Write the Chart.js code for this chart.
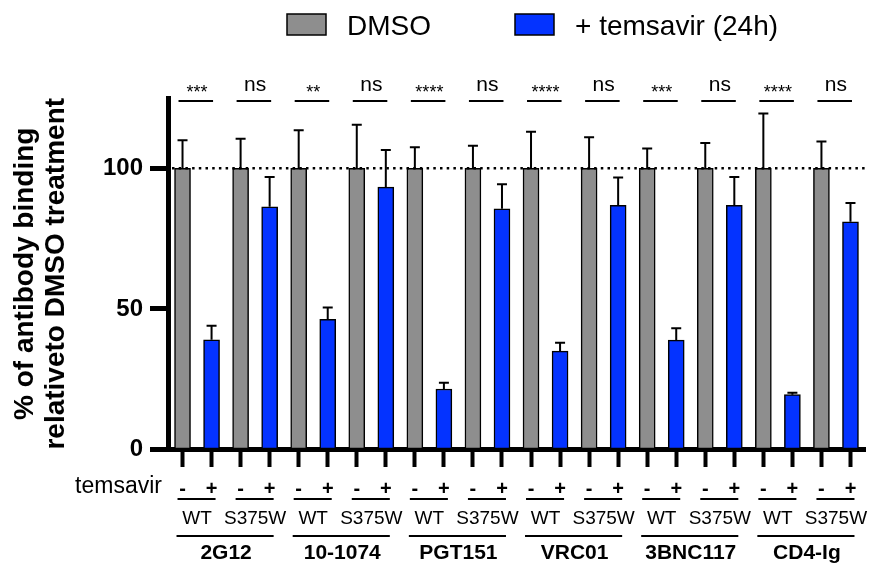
<!DOCTYPE html>
<html>
<head>
<meta charset="utf-8">
<script src="https://cdn.jsdelivr.net/npm/chart.js@4"></script>
<style>
  html, body { margin: 0; padding: 0; background: #fff; }
  canvas { display: block; }
</style>
</head>
<body>
<canvas id="bindingChart" width="869" height="564"></canvas>
<script>
// Data (% binding relative to DMSO, mean and upper SD)
const antibodies = ['2G12', '10-1074', 'PGT151', 'VRC01', '3BNC117', 'CD4-Ig'];
const variants = ['WT', 'S375W'];
const dmsoMean = [100, 100, 100, 100, 100, 100, 100, 100, 100, 100, 100, 100];
const dmsoSD = [10, 10.5, 13.5, 15.5, 7.5, 8, 13, 11, 7, 9, 19.5, 9.5];
const temsMean = [39, 86.3, 46.3, 93.3, 21.5, 85.6, 35, 86.8, 38.9, 86.8, 19.5, 81];
const temsSD = [5, 10.6, 4.2, 13.2, 2.2, 8.7, 3, 9.9, 4.2, 10.1, 0.7, 6.7];
const significance = ['***', 'ns', '**', 'ns', '****', 'ns', '****', 'ns', '***', 'ns', '****', 'ns'];
const yTicks = [0, 50, 100];
const refLine = 100;

const GRAY = '#8e8e8e';
const BLUE = '#0433ff';
const FONT = "'Liberation Sans', Arial, Helvetica, sans-serif";

// one category per bar: DMSO (-) then temsavir (+) for every antibody/variant
const labels = [];
const dmsoData = [];
const temsData = [];
antibodies.forEach((ab, a) => {
  variants.forEach((v, k) => {
    const i = a * 2 + k;
    labels.push(ab + ' ' + v + ' -', ab + ' ' + v + ' +');
    dmsoData.push(dmsoMean[i], null);
    temsData.push(null, temsMean[i]);
  });
});
const errors = [
  dmsoSD.flatMap(e => [e, null]),
  temsSD.flatMap(e => [null, e])
];

// upward-only error bars, reference line, significance marks, group labels, legend
const annotations = {
  id: 'annotations',
  afterDraw(chart) {
    const ctx = chart.ctx;
    const x = chart.scales.x;
    const y = chart.scales.y;
    const area = chart.chartArea;
    ctx.save();
    ctx.strokeStyle = '#000';
    ctx.fillStyle = '#000';

    // dotted line at 100%
    ctx.lineWidth = 2.5;
    ctx.setLineDash([2.5, 4.2]);
    ctx.beginPath();
    const yRef = y.getPixelForValue(refLine);
    ctx.moveTo(area.left + 4, yRef);
    ctx.lineTo(area.right + 2, yRef);
    ctx.stroke();
    ctx.setLineDash([]);

    // error bars
    ctx.lineWidth = 2;
    chart.data.datasets.forEach((ds, di) => {
      chart.getDatasetMeta(di).data.forEach((bar, j) => {
        const v = ds.data[j];
        if (v === null) return;
        const top = y.getPixelForValue(v + errors[di][j]);
        ctx.beginPath();
        ctx.moveTo(bar.x, bar.y);
        ctx.lineTo(bar.x, top);
        ctx.moveTo(bar.x - 5, top);
        ctx.lineTo(bar.x + 5, top);
        ctx.stroke();
      });
    });

    // significance above each pair
    ctx.textAlign = 'center';
    significance.forEach((s, p) => {
      const ca = x.getPixelForValue(2 * p);
      const cb = x.getPixelForValue(2 * p + 1);
      ctx.beginPath();
      ctx.moveTo(ca - 4, 101);
      ctx.lineTo(cb + 1.5, 101);
      ctx.stroke();
      if (s === 'ns') {
        ctx.font = '21px ' + FONT;
        ctx.fillText(s, (ca + cb) / 2, 91);
      } else {
        ctx.font = '18px ' + FONT;
        ctx.fillText(s, (ca + cb) / 2, 98);
      }
    });

    // pair underline + variant, group underline + antibody
    antibodies.forEach((ab, a) => {
      variants.forEach((v, k) => {
        const i = a * 4 + k * 2;
        const ca = x.getPixelForValue(i);
        const cb = x.getPixelForValue(i + 1);
        ctx.beginPath();
        ctx.moveTo(ca - 5, 499);
        ctx.lineTo(cb + 4, 499);
        ctx.stroke();
        ctx.font = '19px ' + FONT;
        ctx.fillText(v, (ca + cb) / 2, 524);
      });
      const g0 = x.getPixelForValue(a * 4);
      const g1 = x.getPixelForValue(a * 4 + 3);
      ctx.beginPath();
      ctx.moveTo(g0 - 6, 536);
      ctx.lineTo(g1 + 4, 536);
      ctx.stroke();
      ctx.font = 'bold 21px ' + FONT;
      ctx.fillText(ab, (g0 + g1) / 2, 559);
    });

    ctx.textAlign = 'right';
    ctx.font = '23px ' + FONT;
    ctx.fillText('temsavir', 162, 493);

    // legend
    ctx.textAlign = 'left';
    ctx.font = '28px ' + FONT;
    ctx.lineWidth = 1.5;
    [[287, GRAY, 'DMSO'], [515, BLUE, '+ temsavir (24h)']].forEach(([lx, col, txt]) => {
      ctx.fillStyle = col;
      ctx.fillRect(lx, 14, 39, 21);
      ctx.strokeRect(lx, 14, 39, 21);
      ctx.fillStyle = '#000';
      ctx.fillText(txt, lx + 60, 35);
    });
    ctx.restore();
  }
};

const barStyle = {
  borderColor: '#000',
  borderWidth: 1.5,
  borderSkipped: false,
  barThickness: 16,
  grouped: false
};

new Chart(document.getElementById('bindingChart'), {
  type: 'bar',
  data: {
    labels: labels,
    datasets: [
      Object.assign({ label: 'DMSO', data: dmsoData, backgroundColor: GRAY }, barStyle),
      Object.assign({ label: '+ temsavir (24h)', data: temsData, backgroundColor: BLUE }, barStyle)
    ]
  },
  options: {
    responsive: false,
    animation: false,
    layout: { padding: { top: 98, right: 4, bottom: 0, left: 0 } },
    plugins: {
      legend: { display: false },
      tooltip: { enabled: false }
    },
    scales: {
      x: {
        offset: true,
        border: { display: true, width: 5, color: '#000' },
        grid: { drawOnChartArea: false, offset: false, tickLength: 17.5, tickWidth: 4, tickColor: '#000' },
        ticks: {
          autoSkip: false,
          maxRotation: 0,
          padding: 10,
          color: '#000',
          font: { family: FONT, size: 20, weight: 'bold' },
          callback: (val, i) => (i % 2 === 0 ? '-' : '+')
        },
        afterFit: s => { s.height = 114.5; }
      },
      y: {
        min: 0,
        max: 125,
        border: { display: true, width: 5, color: '#000' },
        grid: { drawOnChartArea: false, tickLength: 18, tickWidth: 5, tickColor: '#000' },
        afterBuildTicks: s => { s.ticks = yTicks.map(v => ({ value: v })); },
        ticks: {
          padding: 7,
          color: '#000',
          font: { family: FONT, size: 24, weight: 'bold' }
        },
        title: {
          display: true,
          text: ['% of antibody binding', 'relativeto DMSO treatment'],
          color: '#000',
          font: { family: FONT, size: 28, weight: 'bold', lineHeight: 1.1 },
          padding: { top: 10, bottom: 0 }
        },
        afterFit: s => { s.width = 168; }
      }
    }
  },
  plugins: [annotations]
});
</script>
</body>
</html>
